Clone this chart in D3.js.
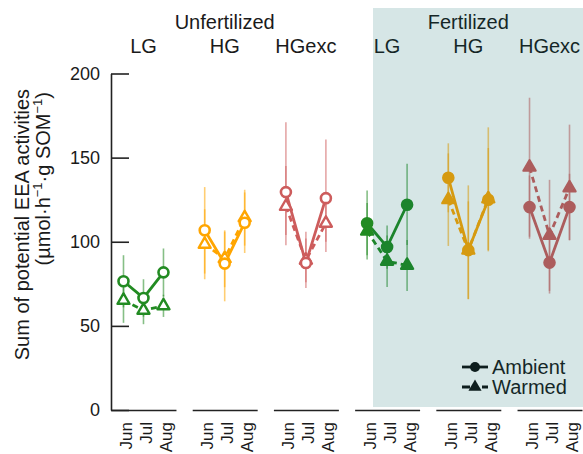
<!DOCTYPE html>
<html><head><meta charset="utf-8">
<script src="https://cdn.jsdelivr.net/npm/d3@7"></script>
<style>
body{margin:0;background:#fff}
svg{display:block}
text{font-family:"Liberation Sans",Arial,Helvetica,sans-serif;fill:#1a1a1a}
</style>
</head><body><svg id="c" width="583" height="454"></svg>
<script>
// ---------- data ----------
const treatments = ["Unfertilized", "Fertilized"];
const panelTreatment = [0, 0, 0, 1, 1, 1];
const grazing = ["LG", "HG", "HGexc", "LG", "HG", "HGexc"];
const months = ["Jun", "Jul", "Aug"];
const yTicks = [0, 50, 100, 150, 200];
const seriesNames = ["Ambient", "Warmed"];

const ambient = [
  [76.5, 66.6, 81.8],
  [106.8, 87.0, 111.3],
  [129.5, 87.4, 125.9],
  [111.0, 96.9, 122.0],
  [138.0, 95.0, 125.0],
  [120.6, 87.6, 120.6]
];
const warmed = [
  [65.2, 59.3, 61.9],
  [98.5, 90.0, 114.3],
  [121.0, 89.0, 111.0],
  [106.3, 88.4, 86.0],
  [125.0, 95.0, 125.5],
  [144.3, 103.8, 132.0]
];
const ambientLow = [
  [61.0, 55.5, 67.6],
  [81.1, 64.6, 93.3],
  [104.0, 72.5, 100.0],
  [92.0, 84.0, 98.0],
  [117.5, 65.8, 94.3],
  [101.8, 69.2, 100.8]
];
const ambientHigh = [
  [92.0, 77.7, 96.0],
  [132.5, 106.8, 129.3],
  [171.0, 102.0, 160.7],
  [130.5, 109.7, 146.3],
  [158.5, 124.0, 155.7],
  [139.4, 106.0, 140.4]
];
const warmedLow = [
  [51.8, 51.0, 55.3],
  [77.7, 73.0, 97.7],
  [97.9, 76.0, 93.9],
  [89.4, 73.1, 70.8],
  [97.5, 66.0, 95.0],
  [103.0, 70.8, 101.0]
];
const warmedHigh = [
  [78.6, 67.6, 68.5],
  [119.3, 106.0, 130.9],
  [145.0, 106.0, 128.0],
  [123.0, 103.7, 101.0],
  [152.5, 133.5, 168.0],
  [185.6, 136.8, 169.6]
];
const grazingColors = {LG: "#228B22", HG: "#FFA500", HGexc: "#CD5C5C"};

// ---------- layout ----------
const svg = d3.select("#c");
const W = 583, H = 454;
const panelX = d3.scaleBand().domain(d3.range(6)).range([111, 582]).paddingInner(0.2).paddingOuter(0);
const monthX = d3.scalePoint().domain(months).range([0, panelX.bandwidth()]).padding(0.625);
const y = d3.scaleLinear().domain([0, 200]).range([410, 73.5]);
const axisColor = "#222";

// y axis
const yAxisG = svg.append("g").attr("transform", `translate(${panelX(0)},0)`)
  .call(d3.axisLeft(y).tickValues(yTicks).tickSize(-18).tickSizeOuter(0).tickPadding(11));
yAxisG.selectAll("path,line").attr("stroke", axisColor).attr("stroke-width", 1.6);
yAxisG.selectAll("text").attr("font-size", 18).attr("fill", "#1a1a1a")
  .style("font-family", '"Liberation Sans",Arial,sans-serif');

// y title
const yt = svg.append("g");
yt.append("text").attr("transform", "translate(29,89) rotate(-90)")
  .attr("text-anchor", "end").attr("font-size", 20)
  .text("Sum of potential EEA activities");
const yt2 = yt.append("text").attr("transform", "translate(50,92) rotate(-90)")
  .attr("text-anchor", "end").attr("font-size", 20);
yt2.append("tspan").text("(µmol·h");
yt2.append("tspan").attr("font-size", 13).attr("dy", -8).text("−1");
yt2.append("tspan").attr("dy", 8).text("·g SOM");
yt2.append("tspan").attr("font-size", 13).attr("dy", -8).text("−1");
yt2.append("tspan").attr("dy", 8).text(")");

// x axes per panel
d3.range(6).forEach(p => {
  const g = svg.append("g").attr("transform", `translate(${panelX(p)},410)`)
    .call(d3.axisBottom(monthX).tickSize(0).tickSizeOuter(0));
  g.select(".domain").attr("stroke", axisColor).attr("stroke-width", 1.6);
  g.selectAll(".tick line").remove();
  g.selectAll("text")
    .attr("font-size", 17).attr("fill", "#1a1a1a")
    .style("font-family", '"Liberation Sans",Arial,sans-serif')
    .attr("text-anchor", "end")
    .attr("transform", "rotate(-90)")
    .attr("x", -12).attr("y", 0).attr("dy", 8);
});

// headers
treatments.forEach((t, i) => {
  const ps = d3.range(6).filter(p => panelTreatment[p] === i);
  const cx = (panelX(ps[0]) + panelX(ps[ps.length - 1]) + panelX.bandwidth()) / 2;
  svg.append("text").attr("x", cx).attr("y", 29).attr("text-anchor", "middle")
    .attr("font-size", 20).text(t);
});
grazing.forEach((gname, p) => {
  svg.append("text").attr("x", panelX(p) + panelX.bandwidth() / 2).attr("y", 53)
    .attr("text-anchor", "middle").attr("font-size", 20).text(gname);
});

// data marks
const line = d3.line().x(d => d.x).y(d => d.y);
const triSym = d3.symbol().type(d3.symbolTriangle).size(62);
d3.range(6).forEach(p => {
  const col = grazingColors[grazing[p]];
  const filled = panelTreatment[p] === 1;
  const g = svg.append("g").attr("transform", `translate(${panelX(p)},0)`);
  const sets = [
    {vals: ambient[p], lo: ambientLow[p], hi: ambientHigh[p], dash: null, shape: "circle"},
    {vals: warmed[p], lo: warmedLow[p], hi: warmedHigh[p], dash: "6,4", shape: "triangle"}
  ];
  // error bars
  sets.forEach(s => {
    months.forEach((m, i) => {
      g.append("line").attr("x1", monthX(m)).attr("x2", monthX(m))
        .attr("y1", y(s.lo[i])).attr("y2", y(s.hi[i]))
        .attr("stroke", col).attr("stroke-width", 1.6).attr("stroke-opacity", 0.55);
    });
  });
  // lines
  sets.slice().reverse().forEach(s => {
    const pts = months.map((m, i) => ({x: monthX(m), y: y(s.vals[i])}));
    g.append("path").attr("d", line(pts)).attr("fill", "none")
      .attr("stroke", col).attr("stroke-width", 2.8)
      .attr("stroke-dasharray", s.dash);
  });
  // markers
  sets.slice().reverse().forEach(s => {
    months.forEach((m, i) => {
      const cx = monthX(m), cy = y(s.vals[i]);
      if (s.shape === "circle") {
        g.append("circle").attr("cx", cx).attr("cy", cy).attr("r", 5)
          .attr("fill", filled ? col : "#fff").attr("stroke", col).attr("stroke-width", 2.6);
      } else {
        g.append("path").attr("d", triSym()).attr("transform", `translate(${cx},${cy})`)
          .attr("fill", filled ? col : "#fff").attr("stroke", col).attr("stroke-width", 2.4)
          .attr("stroke-linejoin", "round");
      }
    });
  });
});

// legend
const lg = svg.append("g");
seriesNames.forEach((name, i) => {
  const cy = 367 + i * 20;
  lg.append("line").attr("x1", 462).attr("x2", 488).attr("y1", cy).attr("y2", cy)
    .attr("stroke", "#111").attr("stroke-width", 2.8)
    .attr("stroke-dasharray", i === 1 ? "8,12,6" : null);
  if (i === 0) {
    lg.append("circle").attr("cx", 475).attr("cy", cy).attr("r", 5).attr("fill", "#111");
  } else {
    lg.append("path").attr("d", d3.symbol().type(d3.symbolTriangle).size(75)())
      .attr("transform", `translate(475,${cy})`).attr("fill", "#111");
  }
  lg.append("text").attr("x", 492).attr("y", cy + 7).attr("font-size", 20).text(name);
});

// fertilized shading overlay
svg.append("rect").attr("x", 373).attr("y", 8).attr("width", W - 373).attr("height", 399)
  .attr("fill", "#006666").attr("fill-opacity", 0.16).attr("pointer-events", "none");
</script>
</body></html>
